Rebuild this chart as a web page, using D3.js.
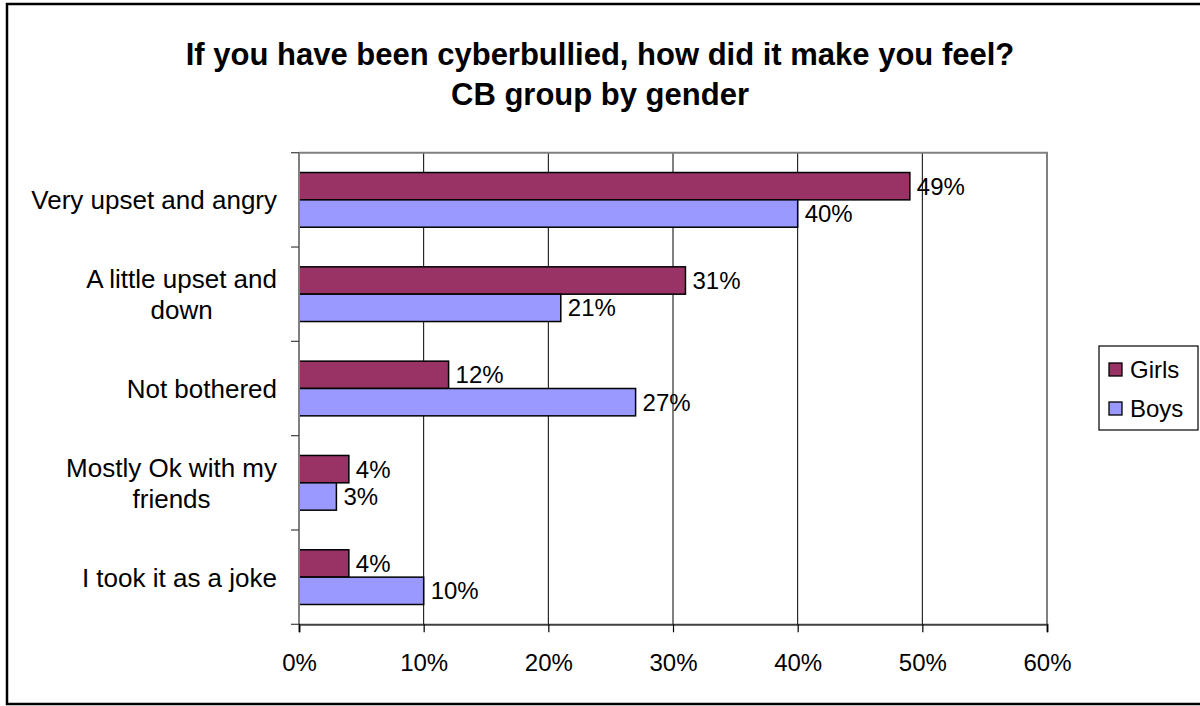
<!DOCTYPE html>
<html>
<head>
<meta charset="utf-8">
<script src="https://cdn.jsdelivr.net/npm/d3@7"></script>
<style>
  html, body { margin: 0; padding: 0; background: #fff; }
  svg { display: block; font-family: "Liberation Sans", Arial, sans-serif; }
</style>
</head>
<body>
<svg id="chart" width="1200" height="706"></svg>
<script>
// Survey answers, top to bottom
const categories = [
  "Very upset and angry",
  "A little upset and down",
  "Not bothered",
  "Mostly Ok with my friends",
  "I took it as a joke"
];
// Category labels as wrapped in the axis
const categoryLines = [
  ["Very upset and angry"],
  ["A little upset and", "down"],
  ["Not bothered"],
  ["Mostly Ok with my", "friends"],
  ["I took it as a joke"]
];
const seriesNames = ["Girls", "Boys"];
const girls = [0.49, 0.31, 0.12, 0.04, 0.04];
const boys  = [0.40, 0.21, 0.27, 0.03, 0.10];
const xTicks = [0, 0.1, 0.2, 0.3, 0.4, 0.5, 0.6];
const titleLines = ["If you have been cyberbullied, how did it make you feel?", "CB group by gender"];
const colors = { Girls: "#993366", Boys: "#9999FF" };

const svg = d3.select("#chart");

// Outer chart frame
svg.append("rect")
  .attr("x", 7).attr("y", 4)
  .attr("width", 1210).attr("height", 700)
  .attr("fill", "#fff")
  .attr("stroke", "#000").attr("stroke-width", 2.5);

// Plot area
const plot = { left: 299, right: 1047, top: 152.7, bottom: 624.3 };

const x = d3.scaleLinear().domain([0, 0.6]).range([plot.left, plot.right]);
const y = d3.scaleBand().domain(categories)
  .range([plot.top, plot.bottom])
  .paddingInner(0.42).paddingOuter(0.21);
const ySub = d3.scaleBand().domain(seriesNames).range([0, y.bandwidth()]);

const rows = categories.map((c, i) => ({ cat: c, Girls: girls[i], Boys: boys[i] }));

// Vertical gridlines
svg.append("g")
  .selectAll("line")
  .data(xTicks.filter(t => t > 0 && t < 0.6))
  .join("line")
  .attr("x1", d => x(d)).attr("x2", d => x(d))
  .attr("y1", plot.top).attr("y2", plot.bottom)
  .attr("stroke", "#000").attr("stroke-width", 1);

// Plot border (top and right)
svg.append("path")
  .attr("d", `M${plot.left},${plot.top}H${plot.right}V${plot.bottom}`)
  .attr("fill", "none").attr("stroke", "#808080").attr("stroke-width", 2);

// Bars
const groups = svg.append("g").selectAll("g")
  .data(rows).join("g")
  .attr("transform", d => `translate(0,${y(d.cat)})`);

groups.selectAll("rect")
  .data(d => seriesNames.map(s => ({ s, v: d[s] })))
  .join("rect")
  .attr("x", x(0))
  .attr("y", d => ySub(d.s))
  .attr("width", d => x(d.v) - x(0))
  .attr("height", ySub.bandwidth())
  .attr("fill", d => colors[d.s])
  .attr("stroke", "#000").attr("stroke-width", 1.5);

// Value labels
groups.selectAll("text")
  .data(d => seriesNames.map(s => ({ s, v: d[s] })))
  .join("text")
  .attr("x", d => x(d.v) + 7)
  .attr("y", d => ySub(d.s) + ySub.bandwidth() / 2)
  .attr("dy", "0.36em")
  .attr("font-size", 24)
  .attr("fill", "#000")
  .text(d => d3.format(".0%")(d.v));

// Left axis with ticks at category boundaries
const boundaries = d3.range(categories.length + 1).map(i => plot.top + i * y.step());
svg.append("line")
  .attr("x1", plot.left).attr("x2", plot.left)
  .attr("y1", plot.top).attr("y2", plot.bottom)
  .attr("stroke", "#808080").attr("stroke-width", 2);
svg.append("g").selectAll("line")
  .data(boundaries).join("line")
  .attr("x1", plot.left - 8).attr("x2", plot.left)
  .attr("y1", d => d).attr("y2", d => d)
  .attr("stroke", "#404040").attr("stroke-width", 1.2);

// Bottom axis
const xAxis = svg.append("g")
  .attr("transform", `translate(0,${plot.bottom})`)
  .call(d3.axisBottom(x).tickValues(xTicks).tickFormat(d3.format(".0%")).tickSize(8).tickPadding(22));
xAxis.select(".domain").attr("stroke", "#404040").attr("stroke-width", 2);
xAxis.selectAll(".tick line").attr("stroke", "#000").attr("stroke-width", 1.2);
xAxis.selectAll(".tick text")
  .attr("font-size", 24).attr("fill", "#000")
  .attr("font-family", "Liberation Sans, Arial, sans-serif");

// Category labels: right-aligned block, lines centred within it
const labelRight = 277;
const lineGap = 31;
categoryLines.forEach((lines, i) => {
  const cy = y(categories[i]) + y.bandwidth() / 2;
  const g = svg.append("g");
  const texts = lines.map((ln, j) => g.append("text")
    .attr("y", cy + (j - (lines.length - 1) / 2) * lineGap)
    .attr("dy", "0.36em")
    .attr("font-size", 26)
    .attr("fill", "#000")
    .attr("text-anchor", "middle")
    .text(ln));
  const maxW = d3.max(texts, t => t.node().getComputedTextLength());
  texts.forEach(t => t.attr("x", labelRight - maxW / 2));
});

// Title
svg.append("g").selectAll("text")
  .data(titleLines).join("text")
  .attr("x", 600)
  .attr("y", (d, i) => 65 + i * 40)
  .attr("text-anchor", "middle")
  .attr("font-size", 31)
  .attr("font-weight", "bold")
  .attr("fill", "#000")
  .text(d => d);

// Legend
const legend = svg.append("g");
legend.append("rect")
  .attr("x", 1099).attr("y", 346)
  .attr("width", 99).attr("height", 84)
  .attr("fill", "#fff").attr("stroke", "#000").attr("stroke-width", 1.2);
const items = legend.selectAll("g.item")
  .data(seriesNames).join("g")
  .attr("class", "item")
  .attr("transform", (d, i) => `translate(1109,${369 + i * 39})`);
items.append("rect")
  .attr("x", 0).attr("y", -6)
  .attr("width", 13).attr("height", 13)
  .attr("fill", d => colors[d])
  .attr("stroke", "#000").attr("stroke-width", 1.3);
items.append("text")
  .attr("x", 21).attr("y", 0).attr("dy", "0.36em")
  .attr("font-size", 24)
  .attr("fill", "#000")
  .text(d => d);
</script>
</body>
</html>
